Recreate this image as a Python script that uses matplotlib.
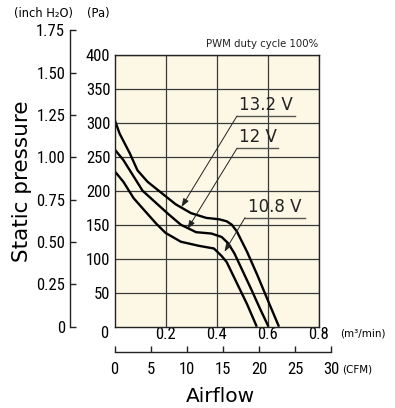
import matplotlib
matplotlib.use("Agg")
import matplotlib.pyplot as plt
from matplotlib import font_manager

# ---------------- data ----------------
q_132 = [0.000, 0.020, 0.060, 0.090, 0.130, 0.180, 0.240, 0.300, 0.360, 0.410, 0.440, 0.460, 0.480, 0.500, 0.520, 0.560, 0.600, 0.645]
p_132 = [305, 284, 255, 230, 213, 198, 180, 167, 160, 158, 155, 150, 140, 125, 110, 76, 40, 0]

q_120 = [0.000, 0.035, 0.075, 0.110, 0.160, 0.210, 0.260, 0.320, 0.380, 0.420, 0.445, 0.470, 0.500, 0.540, 0.570, 0.604]
p_120 = [261, 245, 221, 200, 183, 166, 150, 139, 137, 132, 123, 108, 84, 52, 27, 0]

q_108 = [0.000, 0.035, 0.075, 0.115, 0.165, 0.200, 0.260, 0.330, 0.390, 0.420, 0.440, 0.480, 0.520, 0.558]
p_108 = [229, 213, 189, 172, 151, 138, 125, 119, 115, 104, 95, 64, 33, 0]

series_labels = ["13.2 V", "12 V", "10.8 V"]
pa_ticks = [0, 50, 100, 150, 200, 250, 300, 350, 400]
m3_ticks = [0.2, 0.4, 0.6, 0.8]
inch_ticks = [0, 0.25, 0.50, 0.75, 1.00, 1.25, 1.50, 1.75]
inch_labels = ["0", "0.25", "0.50", "0.75", "1.00", "1.25", "1.50", "1.75"]
cfm_ticks = [0, 5, 10, 15, 20, 25, 30]

PA_PER_INCH = 249.09

# fonts
avail = {f.name for f in font_manager.fontManager.ttflist}
NUM_FONT = ["DejaVu Sans"]
NUM_SIZE = 10
for cand in ["Roboto Condensed", "Archivo Narrow", "PT Sans Narrow", "Liberation Sans Narrow", "Arimo"]:
    if cand in avail:
        NUM_FONT = [cand, "DejaVu Sans"]
        NUM_SIZE = 12
        break
TXT_FONT = ["DejaVu Sans"]

W, H = 395, 408
fig = plt.figure(figsize=(W / 100, H / 100), dpi=100)

def fx(px):
    return px / W

def fy(py):
    return 1 - py / H

x0, x1 = 114.5, 318.5
y0, y1 = 326.7, 54.7
ax = fig.add_axes([fx(x0), fy(y0), (x1 - x0) / W, (y0 - y1) / H])
ax.set_facecolor("#FCF8E5")
ax.set_xlim(0, 0.8)
ax.set_ylim(0, 400)
ax.grid(True, color="#3a3a3a", linewidth=0.9)
ax.set_axisbelow(True)
ax.tick_params(axis="y", length=0, pad=3)
ax.tick_params(axis="x", length=0, pad=0.5)
ax.set_xticks(m3_ticks)
ax.set_xticklabels([f"{v:.1f}" for v in m3_ticks], fontfamily=NUM_FONT, fontsize=NUM_SIZE)
ax.set_yticks(pa_ticks[1:])
ax.set_yticklabels([str(v) for v in pa_ticks[1:]], fontfamily=NUM_FONT, fontsize=NUM_SIZE)
for s in ax.spines.values():
    s.set_color("#222222")
    s.set_linewidth(1.0)
ax.annotate("0", xy=(0, 0), xytext=(-4.5, 0.5), textcoords="offset points",
            ha="right", va="top", fontfamily=NUM_FONT, fontsize=NUM_SIZE, annotation_clip=False)

for q, p in [(q_132, p_132), (q_120, p_120), (q_108, p_108)]:
    ax.plot(q, p, color="black", linewidth=1.7, solid_joinstyle="round", solid_capstyle="butt", clip_on=True)

# voltage labels (positions in data units)
def to_data(px, py):
    return ((px - x0) / 255.0, (y0 - py) / 0.68)

labels_geom = [
    # underline x from, underline x to, underline y, arrow tip (pixels)
    (237, 295, 116.0, (181.5, 207.0)),
    (237, 278, 148.3, (187.5, 229.0)),
    (245, 305, 217.7, (224.5, 251.7)),
]
for text, (ux0, ux1, uy, tip) in zip(series_labels, labels_geom):
    a = to_data(ux0, uy)
    b = to_data(ux1, uy)
    t = to_data(*tip)
    ax.plot([a[0], b[0]], [a[1], b[1]], color="#555555", linewidth=1.0)
    ax.annotate("", xy=t, xytext=a,
                arrowprops=dict(arrowstyle="-|>,head_length=0.5,head_width=0.18", color="#222222",
                                linewidth=0.7, shrinkA=0, shrinkB=0))
    ax.text((a[0] + b[0]) / 2, a[1] + 3, text, ha="center", va="bottom",
            fontsize=12, color="#222222", fontfamily=TXT_FONT)

fig.text(fx(318), fy(44), "PWM duty cycle 100%", ha="right", va="center",
         fontsize=7.3, color="#222222", fontfamily=TXT_FONT)

# inch H2O axis
inch_top_px = y0 - 1.75 * PA_PER_INCH * 0.68
axi = fig.add_axes([fx(70), fy(y0), 0.001, (y0 - inch_top_px) / H])
axi.set_ylim(0, 1.75)
axi.set_xticks([])
for k in ["top", "right", "bottom"]:
    axi.spines[k].set_visible(False)
axi.spines["left"].set_linewidth(1.0)
axi.spines["left"].set_color("#222222")
axi.set_yticks(inch_ticks)
axi.set_yticklabels(inch_labels, fontfamily=NUM_FONT, fontsize=NUM_SIZE)
axi.tick_params(axis="y", direction="in", length=4, width=1.0, pad=3.5, color="#222222")
axi.patch.set_visible(False)

# CFM axis
cfm_y = 352
cfm_x1 = x0 + 30 / 35.3147 * 255
axc = fig.add_axes([fx(x0), fy(cfm_y), (cfm_x1 - x0) / W, 0.001])
axc.set_xlim(0, 30)
axc.set_yticks([])
for k in ["top", "right", "left"]:
    axc.spines[k].set_visible(False)
axc.spines["bottom"].set_linewidth(1.0)
axc.spines["bottom"].set_color("#222222")
axc.set_xticks(cfm_ticks)
axc.set_xticklabels([str(v) for v in cfm_ticks], fontfamily=NUM_FONT, fontsize=NUM_SIZE)
axc.tick_params(axis="x", direction="in", length=4, width=1.0, pad=7, color="#222222")
axc.patch.set_visible(False)

# unit labels
fig.text(fx(14), fy(14), "(inch H\u2082O)", ha="left", va="center", fontsize=8.3, fontfamily=TXT_FONT)
fig.text(fx(87), fy(14), "(Pa)", ha="left", va="center", fontsize=8.3, fontfamily=TXT_FONT)
fig.text(fx(340), fy(334), "(m\u00b3/min)", ha="left", va="center", fontsize=7.5, fontfamily=TXT_FONT)
fig.text(fx(342), fy(370), "(CFM)", ha="left", va="center", fontsize=7.5, fontfamily=TXT_FONT)

fig.text(fx(22), fy(181), "Static pressure", rotation=90, ha="center", va="center",
         fontsize=15.5, fontfamily=TXT_FONT)
fig.text(fx(220), fy(402), "Airflow", ha="center", va="baseline",
         fontsize=14.5, fontfamily=TXT_FONT)

fig.savefig("out.png", dpi=100)
